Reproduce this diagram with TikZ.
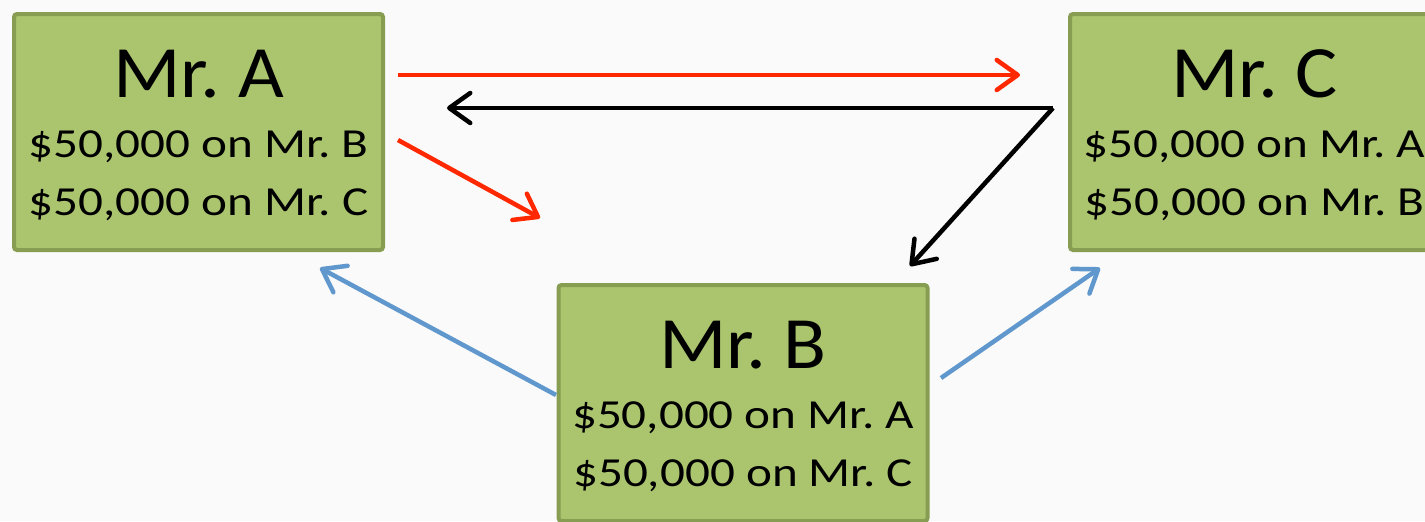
\documentclass[tikz,border=0pt]{standalone}
\usepackage{fontspec}
\setmainfont{Carlito}
\newfontfamily\betfamily[FakeStretch=1.19]{Carlito}
\newfontfamily\namefamily[FakeStretch=1.07]{Carlito}
\usepackage{tikz}
\usetikzlibrary{arrows.meta}
\definecolor{boxfill}{RGB}{171,197,111}
\definecolor{boxborder}{RGB}{134,157,82}
\definecolor{arrowred}{RGB}{255,40,0}
\definecolor{arrowblue}{RGB}{96,152,206}
\definecolor{paper}{RGB}{250,250,250}
\newcommand{\namefont}{\namefamily\fontsize{42}{42}\selectfont\rule{0pt}{31pt}}
\newcommand{\betfont}{\frenchspacing\betfamily\fontsize{23.5}{33}\selectfont}
\tikzset{
every picture/.style={line width=0.09cm,
                      >={Straight Barb[length=0.42cm,width=0.6cm,round]}},
%%%%%%%%%%  Node styles
personbox/.style={rectangle, rounded corners=0.06cm, draw=boxborder,
                  fill=boxfill, line width=0.08cm, minimum width=7.38cm,
                  minimum height=4.72cm, inner sep=0pt, align=center,
                  font=\betfont},
%%%%%%% arrow styles
redarrow/.style={->, draw=arrowred},
blackarrow/.style={->, draw=black},
bluearrow/.style={->, draw=arrowblue}
}

\begin{document}
\begin{tikzpicture}
\useasboundingbox (0,0) rectangle (28.5,-10.42);
\fill[paper] (0,0) rectangle (28.5,-10.42);
%% the three bettors
\node[personbox] (A) at (3.97,-2.64) {{\namefont Mr. A}\\[0.05cm] \$50,000 on Mr. B\\ \$50,000 on Mr. C};
\node[personbox] (C) at (25.09,-2.64) {{\namefont Mr. C}\\[0.05cm] \$50,000 on Mr. A\\ \$50,000 on Mr. B};
\node[personbox] (B) at (14.86,-8.06) {{\namefont Mr. B}\\[0.05cm] \$50,000 on Mr. A\\ \$50,000 on Mr. C};
%% free ends of the arrows
\coordinate (a1) at (7.96,-1.5);
\coordinate (c1) at (20.4,-1.5);
\coordinate (ck) at (21.06,-2.16);
\coordinate (a2) at (8.94,-2.16);
\coordinate (b2) at (18.2,-5.32);
\coordinate (a3) at (7.96,-2.8);
\coordinate (m3) at (10.8,-4.36);
\coordinate (b4) at (11.12,-7.9);
\coordinate (a4) at (6.4,-5.36);
\coordinate (b5) at (18.82,-7.56);
\coordinate (c5) at (22.0,-5.36);
%% Mr. A
\draw[redarrow] (a1) -- (c1);
\draw[redarrow] (a3) -- (m3);
%% Mr. C
\draw[blackarrow] (ck) -- (a2);
\draw[blackarrow] (ck) -- (b2);
%% Mr. B
\draw[bluearrow] (b4) -- (a4);
\draw[bluearrow] (b5) -- (c5);
\end{tikzpicture}
\end{document}
